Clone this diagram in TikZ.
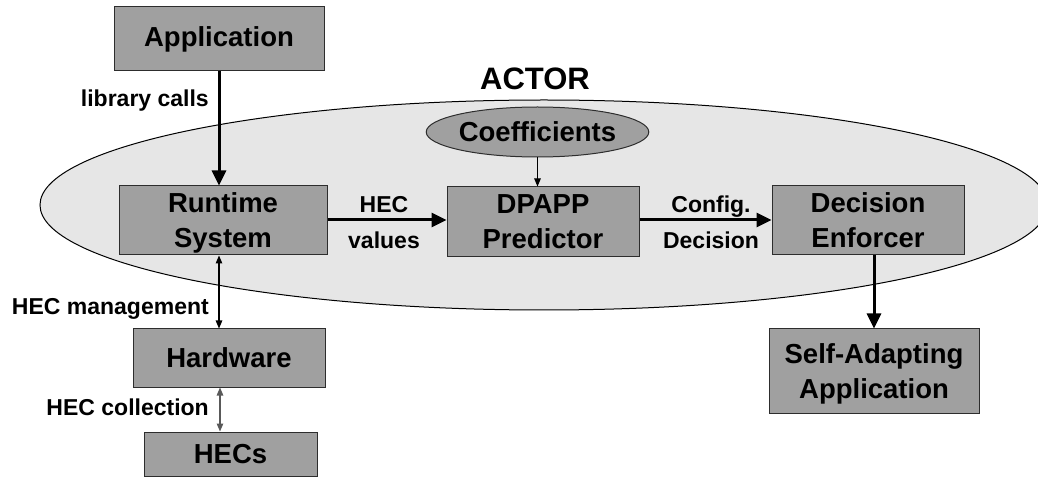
\documentclass[tikz,border=0pt]{standalone}
\usepackage{fontspec}
\setmainfont{Liberation Sans}
\usetikzlibrary{arrows.meta,shapes.geometric}
\definecolor{boxgray}{RGB}{160,160,160}
\definecolor{ellgray}{RGB}{230,230,230}
\definecolor{edgegray}{RGB}{45,45,45}
\begin{document}
\begin{tikzpicture}[x=1bp,y=-1bp,
  box/.style={draw=edgegray, line width=1bp, fill=boxgray, inner sep=0pt, align=center,
    font=\fontsize{27.5bp}{35bp}\selectfont\bfseries},
  twoline/.style={text depth=0pt},
  lbl/.style={inner sep=0pt, font=\fontsize{23bp}{28bp}\selectfont\bfseries},
  thickarrow/.style={line width=3bp, -{Triangle[length=15bp,width=14bp]}},
  thinarrow/.style={line width=1.2bp, {Triangle[length=8bp,width=6.5bp]}-{Triangle[length=8bp,width=6.5bp]}},
  thinone/.style={line width=1bp, -{Triangle[length=8bp,width=6.5bp]}}
]
\useasboundingbox (0,0) rectangle (1038,477);
\begin{scope}
\clip (0,0) rectangle (1038,477);
\draw[fill=ellgray, draw=black, line width=1bp] (544,205) ellipse [x radius=504, y radius=105];
\end{scope}
\node[font=\fontsize{31bp}{36bp}\selectfont\bfseries, inner sep=0pt, anchor=base] (actor) at (535,90) {ACTOR};

\node[box, minimum width=210bp, minimum height=64bp] (app) at (219,39) {Application};
\node[box, twoline, minimum width=208bp, minimum height=69bp] (rt) at (223,220.5) {Runtime\\System};
\node[box, twoline, minimum width=192bp, minimum height=70bp] (dp) at (543,222) {DPAPP\\Predictor};
\node[box, twoline, minimum width=192bp, minimum height=69bp] (de) at (868,220.5) {Decision\\Enforcer};
\node[box, twoline, minimum width=210bp, minimum height=84bp] (sa) at (874,371) {Self-Adapting\\Application};
\node[box, minimum width=192bp, minimum height=58bp] (hw) at (229,358) {Hardware};
\node[box, minimum width=173bp, minimum height=44bp] (hecs) at (230.5,454) {HECs};
\node[draw=edgegray, line width=1bp, fill=boxgray, ellipse, inner sep=0pt, minimum width=191bp, minimum height=50bp,
  font=\fontsize{27.5bp}{35bp}\selectfont\bfseries] (coef) at (537.5,132) {Coefficients};

\draw[thickarrow] (app.south) -- (app.south |- rt.north);
\draw[thickarrow] (rt.east |- 0,220) -- (dp.west |- 0,220);
\draw[thickarrow] (dp.east |- 0,220) -- (de.west |- 0,220);
\draw[thickarrow] (de.south -| sa.north) -- (sa.north);
\draw[thinone] (coef.south) -- (coef.south |- dp.north);
\draw[thinarrow] (rt.south -| app.south) -- (hw.north -| app.south);
\draw[thinarrow, draw=black!65] ([xshift=1bp]hw.south -| app.south) -- ([xshift=1bp]hecs.north -| app.south);

\node[lbl, anchor=base east] (llib) at (209,107) {library calls};
\node[lbl, anchor=base] (lhec) at (384,213) {HEC};
\node[lbl, anchor=base] (lval) at (384,249) {values};
\node[lbl, anchor=base] (lcfg) at (711,213) {Config.};
\node[lbl, anchor=base] (ldec) at (711,249) {Decision};
\node[lbl, anchor=base east] (lmgmt) at (209,315) {HEC management};
\node[lbl, anchor=base east] (lcol) at (209,415) {HEC collection};
\end{tikzpicture}
\end{document}
